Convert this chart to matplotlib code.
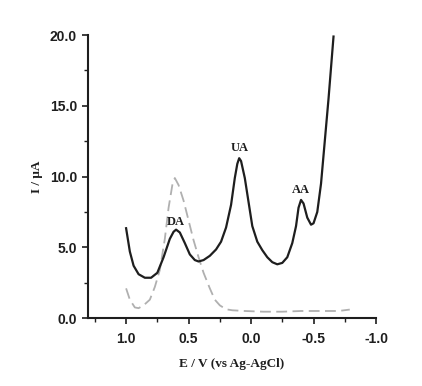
import matplotlib
matplotlib.use("Agg")
import matplotlib.pyplot as plt
from matplotlib.ticker import MultipleLocator, FormatStrFormatter

plt.rcParams['axes.unicode_minus'] = False

# Solid curve (mixture): potential (V) and current (uA)
solid_E = [1.00, 0.97, 0.94, 0.90, 0.85, 0.80, 0.75, 0.70, 0.65, 0.62, 0.60, 0.57, 0.53,
           0.49, 0.45, 0.42, 0.38, 0.33, 0.28, 0.24, 0.20, 0.16, 0.13, 0.11, 0.095, 0.08,
           0.05, 0.02, -0.01, -0.05, -0.09, -0.13, -0.17, -0.21, -0.25, -0.29, -0.33,
           -0.36, -0.38, -0.40, -0.42, -0.45, -0.48, -0.50, -0.53, -0.56, -0.59,
           -0.62, -0.66]
solid_I = [6.35, 4.7, 3.7, 3.1, 2.85, 2.85, 3.2, 4.3, 5.6, 6.1, 6.25, 6.05, 5.3,
           4.5, 4.1, 4.0, 4.1, 4.4, 4.85, 5.4, 6.4, 8.0, 9.9, 10.9, 11.3, 11.1,
           9.9, 8.2, 6.5, 5.4, 4.8, 4.3, 3.95, 3.8, 3.9, 4.3, 5.3,
           6.5, 7.8, 8.35, 8.1, 7.1, 6.6, 6.7, 7.5, 9.5, 12.5,
           15.5, 19.9]

# Dashed curve
dash_E = [1.00, 0.97, 0.93, 0.90, 0.86, 0.81, 0.77, 0.73, 0.69, 0.66, 0.63, 0.61,
          0.58, 0.54, 0.50, 0.46, 0.42, 0.38, 0.33, 0.29, 0.25, 0.20, 0.15, 0.05,
          -0.10, -0.25, -0.40, -0.55, -0.70, -0.79]
dash_I = [2.1, 1.3, 0.75, 0.7, 0.9, 1.3, 2.2, 3.4, 5.6, 7.8, 9.4, 9.9,
          9.4, 8.3, 6.9, 5.5, 4.3, 3.2, 2.1, 1.3, 0.9, 0.62, 0.55, 0.5,
          0.45, 0.45, 0.5, 0.5, 0.5, 0.6]

peak_labels = ["DA", "UA", "AA"]
peak_E = [0.60, 0.095, -0.40]
peak_I = [6.25, 11.3, 8.35]

x_ticks = [1.0, 0.5, 0.0, -0.5, -1.0]
x_tick_labels = ["1.0", "0.5", "0.0", "-0.5", "-1.0"]

fig = plt.figure(figsize=(4.22, 3.86), dpi=100)
ax = fig.add_axes([0.2085, 0.176, 0.6825, 0.733])

ax.plot(dash_E, dash_I, color='#b0b0b0', lw=1.3, dashes=(6, 3))
ax.plot(solid_E, solid_I, color='#1e1e1e', lw=1.6)

serif = ['Liberation Serif', 'DejaVu Serif']
offsets = [1, 3, 3]
for lab, e, i, off in zip(peak_labels, peak_E, peak_I, offsets):
    ax.annotate(lab, (e, i), xytext=(0, off), textcoords='offset points',
                ha='center', va='bottom', fontsize=9, fontweight='bold',
                family=serif, color='#1e1e1e')

ax.set_xlim(1.305, -1.0)
ax.set_ylim(0, 20)
ax.set_xticks(x_ticks)
ax.set_xticklabels(x_tick_labels)
ax.xaxis.set_minor_locator(MultipleLocator(0.25))
ax.yaxis.set_major_locator(MultipleLocator(5))
ax.yaxis.set_minor_locator(MultipleLocator(2.5))
ax.yaxis.set_major_formatter(FormatStrFormatter('%.1f'))

for s in ['top', 'right']:
    ax.spines[s].set_visible(False)
for s in ['left', 'bottom']:
    ax.spines[s].set_linewidth(1.5)
    ax.spines[s].set_color('#1e1e1e')

ax.tick_params(which='major', direction='out', length=4, width=1.2, color='#1e1e1e')
ax.tick_params(which='minor', direction='out', length=3, width=1.0, color='#1e1e1e')
ax.tick_params(axis='x', pad=6)
ax.tick_params(axis='y', pad=4)
for lbl in ax.get_xticklabels() + ax.get_yticklabels():
    lbl.set_family(['Liberation Sans', 'DejaVu Sans'])
    lbl.set_fontweight('bold')
    lbl.set_fontsize(10)
    lbl.set_color('#1e1e1e')

ax.set_xlabel('E / V (vs Ag-AgCl)', family=serif, fontweight='bold', fontsize=9.5,
              color='#1e1e1e', labelpad=9)
ax.set_ylabel('I / μA', family=serif, fontweight='bold', fontsize=9.5,
              color='#1e1e1e', labelpad=5)

fig.savefig('out.png', dpi=100)
